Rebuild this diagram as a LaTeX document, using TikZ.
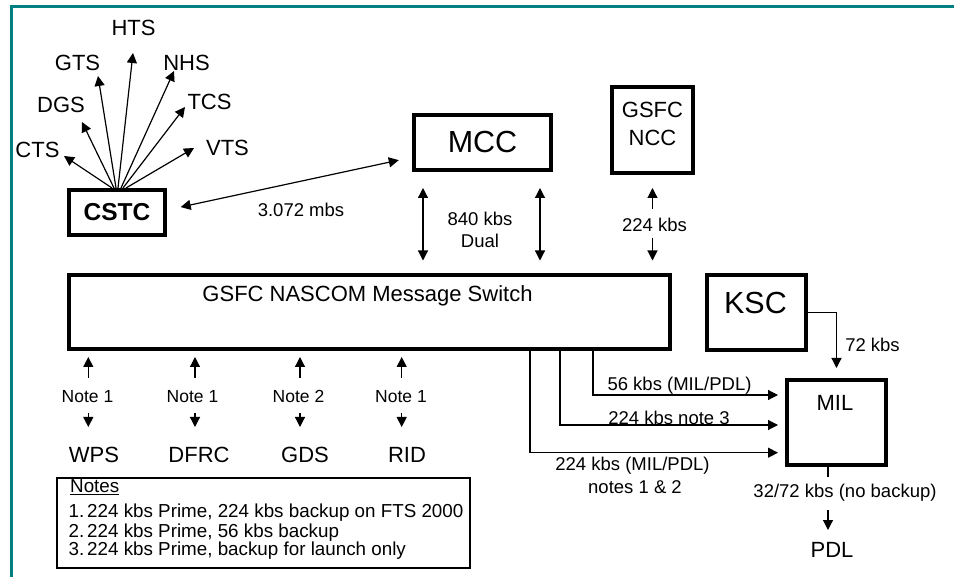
\documentclass[tikz,border=0pt]{standalone}
\usepackage{fontspec}
\setmainfont{Liberation Sans}
\usetikzlibrary{arrows.meta,calc}
\definecolor{frameteal}{RGB}{0,128,128}
\begin{document}
\begin{tikzpicture}[x=1pt,y=-1pt,
  box/.style={draw,line width=4pt,inner sep=0pt},
  lbl/.style={inner sep=0pt,font=\fontsize{18.5}{22}\selectfont},
  big/.style={inner sep=0pt,font=\fontsize{22}{26}\selectfont},
  notelbl/.style={inner sep=0pt,font=\fontsize{17.5}{21}\selectfont},
  notetxt/.style={inner sep=0pt,font=\fontsize{18.8}{22}\selectfont},
  tip/.style={-{Triangle[length=10pt,width=10pt]},line width=1.2pt},
  dtip/.style={{Triangle[length=10pt,width=10pt]}-{Triangle[length=10pt,width=10pt]},line width=1.2pt}]
\useasboundingbox (0,0) rectangle (954,577);
\fill[white] (0,0) rectangle (954,577);
\draw[frameteal,line width=3.2pt] (10,6.7) -- (954,6.7);
\draw[frameteal,line width=3.2pt] (11.7,5.1) -- (11.7,577);

% boxes
\node[box,minimum width=96pt,minimum height=45pt,font=\fontsize{24.5}{28}\selectfont\bfseries] (cstc) at (117,212.5) {CSTC};
\node[box,minimum width=137pt,minimum height=55pt,font=\fontsize{30.5}{34}\selectfont] (mcc) at (482.5,142.5) {MCC};
\node[box,minimum width=81pt,minimum height=86pt] (ncc) at (652.5,130) {};
\node[align=center,inner sep=0pt,font=\fontsize{22}{28}\selectfont] (ncct) at (652.5,123.5) {GSFC\\NCC};
\node[box,minimum width=601pt,minimum height=74pt] (sw) at (369.5,312) {};
\node[big] (swt) at (367.5,295.5) {GSFC NASCOM Message Switch};
\node[box,minimum width=99pt,minimum height=75pt] (ksc) at (756.5,312.5) {};
\node[inner sep=0pt,font=\fontsize{30.5}{34}\selectfont] (ksct) at (755.5,303) {KSC};
\node[box,minimum width=99pt,minimum height=85pt] (mil) at (836.5,422.5) {};
\node[big] (milt) at (835,402.5) {MIL};

% fan labels
\node[big] (cts) at (37.5,150) {CTS};
\node[big] (dgs) at (61,104.5) {DGS};
\node[big] (gts) at (77.5,62.5) {GTS};
\node[big] (hts) at (133.5,27.5) {HTS};
\node[big] (nhs) at (186.5,62.5) {NHS};
\node[big] (tcs) at (209.5,101.5) {TCS};
\node[big] (vts) at (227.5,147.5) {VTS};

% fan arrow ends
\coordinate (t1) at (64,156);
\coordinate (t2) at (82,122);
\coordinate (t3) at (98,76);
\coordinate (t4) at (133,53);
\coordinate (t5) at (174,71);
\coordinate (t6) at (185,107);
\coordinate (t7) at (194,148);
\draw[tip] ([xshift=-5pt]cstc.north) -- (t1);
\draw[tip] ([xshift=-3pt]cstc.north) -- (t2);
\draw[tip] ([xshift=-1pt]cstc.north) -- (t3);
\draw[tip] ([xshift=1pt]cstc.north) -- (t4);
\draw[tip] ([xshift=4pt]cstc.north) -- (t5);
\draw[tip] ([xshift=6pt]cstc.north) -- (t6);
\draw[tip] ([xshift=9pt]cstc.north) -- (t7);

% CSTC <-> MCC
\draw[dtip,shorten <=14pt,shorten >=13.5pt] ($(cstc.east)+(0,-2.5)$) -- ($(mcc.west)+(0,14.8)$);
\node[lbl] (l3072) at (301,209.5) {3.072 mbs};

% MCC <-> switch
\coordinate (ma) at ([xshift=11pt]mcc.south west);
\coordinate (mb) at ([xshift=-13pt]mcc.south east);
\draw[dtip,shorten <=16pt,shorten >=12.5pt] (ma) -- (ma |- sw.north);
\draw[dtip,shorten <=16pt,shorten >=12.5pt] (mb) -- (mb |- sw.north);
\node[lbl,align=center] (l840) at (480,230) {840 kbs\\Dual};

% NCC <-> switch
\node[lbl] (l224) at (654.5,224.5) {224 kbs};
\coordinate (na) at (ncc.south);
\coordinate (nb) at (na |- sw.north);
\draw[tip,shorten >=13pt] ($(na)+(0,34)$) -- (na);
\draw[tip,shorten >=12.5pt] ($(nb)+(0,-35)$) -- (nb);

% bottom sites
\node[notelbl] (n1) at (87.5,396.5) {Note 1};
\node[notelbl] (n2) at (192.5,396.5) {Note 1};
\node[notelbl] (n3) at (298.5,396.5) {Note 2};
\node[notelbl] (n4) at (401,396.5) {Note 1};
\node[big] (wps) at (94,454.5) {WPS};
\node[big] (dfrc) at (199,454.5) {DFRC};
\node[big] (gds) at (305,454.5) {GDS};
\node[big] (rid) at (407,454.5) {RID};
\coordinate (u1) at (88.3,378);
\coordinate (u2) at (195,378);
\coordinate (u3) at (300,378);
\coordinate (u4) at (401.7,378);
\draw[tip,shorten >=6pt] (u1) -- (u1 |- sw.south);
\draw[tip,shorten >=6pt] (u2) -- (u2 |- sw.south);
\draw[tip,shorten >=6pt] (u3) -- (u3 |- sw.south);
\draw[tip,shorten >=6pt] (u4) -- (u4 |- sw.south);
\coordinate (d1) at (88.3,413);
\coordinate (d2) at (195,413);
\coordinate (d3) at (300,413);
\coordinate (d4) at (401.7,413);
\draw[tip] (d1) -- ($(d1)+(0,14)$);
\draw[tip] (d2) -- ($(d2)+(0,14)$);
\draw[tip] (d3) -- ($(d3)+(0,14)$);
\draw[tip] (d4) -- ($(d4)+(0,14)$);

% switch -> MIL
\coordinate (o1) at (593,349);
\coordinate (o2) at (560,349);
\coordinate (o3) at (530,349);
\draw[tip,shorten >=7pt] (o1) |- ([yshift=27.5pt]mil.west);
\draw[tip,shorten >=7pt] (o2) |- ([yshift=-2.5pt]mil.west);
\draw[tip,shorten >=7pt] (o3) |- ([yshift=-30.2pt]mil.west);
\node[lbl] (l56) at (679.5,385.5) {56 kbs (MIL/PDL)};
\node[lbl] (l224n3) at (669,417.5) {224 kbs note 3};
\node[lbl] (l224mp) at (632.5,465.5) {224 kbs (MIL/PDL)};
\node[lbl] (ln12) at (635,487) {notes 1 \& 2};

% KSC -> MIL
\draw[tip,shorten >=10pt] (ksc.east) -| (mil.north);
\node[lbl] (l72) at (872.5,345) {72 kbs};

% MIL -> PDL
\coordinate (ms) at ([xshift=-8.5pt]mil.south);
\coordinate (ms2) at ($(ms)+(0,10)$);
\draw[line width=1.2pt] (ms) -- (ms2);
\node[lbl] (l3272) at (845,493) {32/72 kbs (no backup)};
\node[big] (pdl) at (832,550) {PDL};
\coordinate (pa) at (828,510);
\draw[tip] (pa) -- ($(pa)+(0,20)$);

% notes box
\node[draw,line width=1.5pt,minimum width=413pt,minimum height=90pt,inner sep=0pt] (notes) at (263.5,523) {};
\node[notetxt,anchor=base west] (nt0) at (70,493) {\underline{Notes}};
\node[notetxt,anchor=base west] (nt1) at (68.5,518) {\makebox[18.5pt][l]{1.}224 kbs Prime, 224 kbs backup on FTS 2000};
\node[notetxt,anchor=base west] (nt2) at (68.5,537) {\makebox[18.5pt][l]{2.}224 kbs Prime, 56 kbs backup};
\node[notetxt,anchor=base west] (nt3) at (68.5,555) {\makebox[18.5pt][l]{3.}224 kbs Prime, backup for launch only};
\end{tikzpicture}
\end{document}
